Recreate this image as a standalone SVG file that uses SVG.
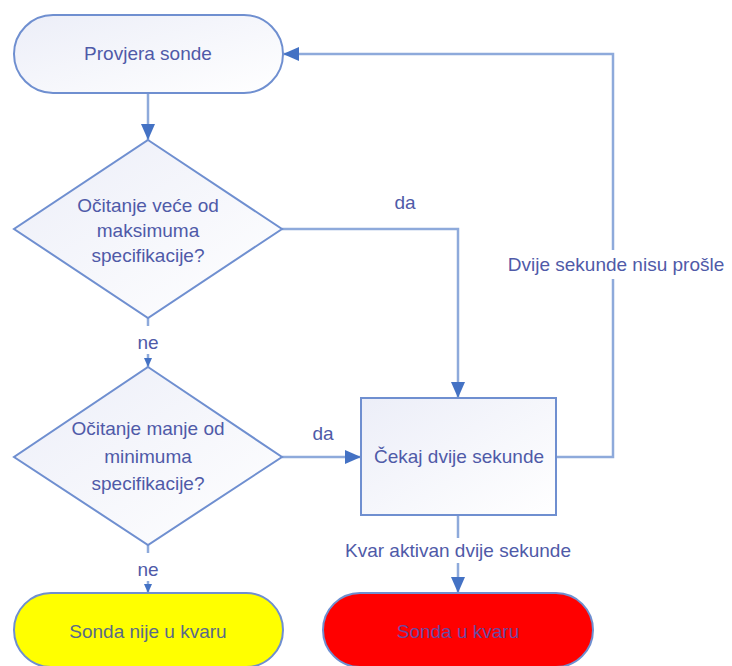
<svg xmlns="http://www.w3.org/2000/svg" width="732" height="666" viewBox="0 0 732 666">
<style>
.shape{stroke:#6f8fd0;stroke-width:2;fill:url(#g)}
.conn{fill:none;stroke:#8eaadb;stroke-width:2.5}
text{font-family:"Liberation Sans",Arial,sans-serif;font-size:19px;fill:#4f5aa8;text-anchor:middle}
</style>
<defs>
<linearGradient id="g" x1="0" y1="0" x2="1" y2="1">
<stop offset="0" stop-color="#eceef8"/>
<stop offset="1" stop-color="#ffffff"/>
</linearGradient>
<marker id="ab" markerUnits="userSpaceOnUse" markerWidth="16" markerHeight="14" refX="16" refY="7" orient="auto">
<path d="M0,0 L16,7 L0,14 z" fill="#4472c4"/>
</marker>
<marker id="as" markerUnits="userSpaceOnUse" markerWidth="9" markerHeight="8" refX="9" refY="4" orient="auto">
<path d="M0,0 L9,4 L0,8 z" fill="#4472c4"/>
</marker>
</defs>
<rect width="732" height="666" fill="#ffffff"/>
<g id="connectors">
<path class="conn" d="M148,93 V140" marker-end="url(#ab)"/>
<path class="conn" d="M282,229 H458 V398" marker-end="url(#ab)"/>
<path class="conn" d="M148,318 V326"/>
<path class="conn" d="M148,354 V367" marker-end="url(#as)"/>
<path class="conn" d="M282,457 H361" marker-end="url(#ab)"/>
<path class="conn" d="M556,457 H613 V279"/>
<path class="conn" d="M613,250 V54 H283" marker-end="url(#ab)"/>
<path class="conn" d="M148,545 V553"/>
<path class="conn" d="M148,581 V593" marker-end="url(#as)"/>
<path class="conn" d="M458,515 V538"/>
<path class="conn" d="M458,563 V593" marker-end="url(#ab)"/>
<text x="405" y="209">da</text>
<text x="148" y="349">ne</text>
<text x="323" y="440">da</text>
<text x="616" y="271">Dvije sekunde nisu prošle</text>
<text x="148" y="576">ne</text>
<text x="458" y="557">Kvar aktivan dvije sekunde</text>
</g>
<g id="start">
<rect class="shape" x="14" y="15" width="269" height="78" rx="39"/>
<text x="148" y="60">Provjera sonde</text>
</g>
<g id="decision1">
<polygon class="shape" points="148,140 282,229 148,318 14,229"/>
<text x="148" y="212">Očitanje veće od</text>
<text x="148" y="237">maksimuma</text>
<text x="148" y="262">specifikacije?</text>
</g>
<g id="decision2">
<polygon class="shape" points="148,367 282,457 148,545 14,457"/>
<text x="148" y="435">Očitanje manje od</text>
<text x="148" y="463">minimuma</text>
<text x="148" y="490">specifikacije?</text>
</g>
<g id="wait">
<rect class="shape" x="361" y="398" width="195" height="117"/>
<text x="459" y="463">Čekaj dvije sekunde</text>
</g>
<g id="ok">
<rect x="14" y="593" width="269" height="74" rx="37" fill="#ffff00" stroke="#6f8fd0" stroke-width="2"/>
<text x="148" y="638" style="fill:#5a6a8a">Sonda nije u kvaru</text>
</g>
<g id="fault">
<rect x="323" y="593" width="270" height="74" rx="37" fill="#ff0000" stroke="#6f8fd0" stroke-width="2"/>
<text x="458" y="638" style="fill:#6a4aa0">Sonda u kvaru</text>
</g>
</svg>
